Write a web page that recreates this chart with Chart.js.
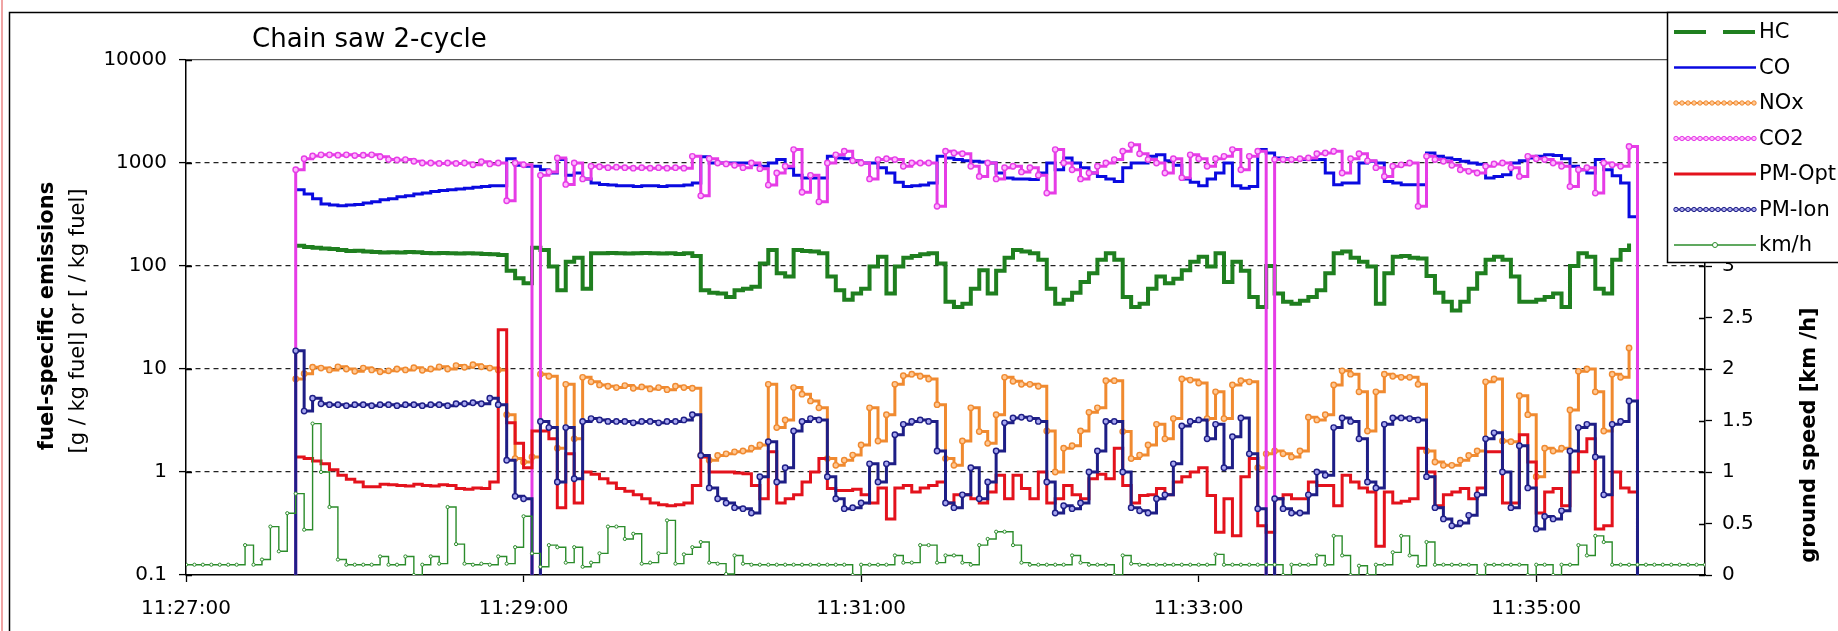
<!DOCTYPE html>
<html>
<head>
<meta charset="utf-8">
<script src="https://cdn.jsdelivr.net/npm/chart.js@4.4.1/dist/chart.umd.min.js"></script>
<style>
  html, body { margin: 0; padding: 0; background: #fff; }
</style>
</head>
<body>
<canvas id="chart" width="1838" height="631"></canvas>
<script>
// time axis: seconds after 11:27:00, one reading every 3 s
const stepSec = 3;
const seconds = Array.from({ length: 181 }, (_, i) => i * stepSec);
const emissionStart = 36; // first emission reading (s)

const xTickSeconds = [0, 120, 240, 360, 480];
const xTickLabels = ['11:27:00', '11:29:00', '11:31:00', '11:33:00', '11:35:00'];
const yTicks = [0.1, 1, 10, 100, 1000, 10000];
const yTickLabels = ['0.1', '1', '10', '100', '1000', '10000'];
const y2Ticks = [0, 0.5, 1, 1.5, 2, 2.5, 3, 3.5, 4, 4.5, 5];
const y2TickLabels = ['0', '0.5', '1', '1.5', '2', '2.5', '3', '3.5', '4', '4.5', '5'];

const chartTitle = 'Chain saw 2-cycle';
const yTitle = ['fuel-specific emissions', '[g / kg fuel] or [ / kg fuel]'];
const y2Title = 'ground speed [km /h]';
const seriesNames = ['HC', 'CO', 'NOx', 'CO2', 'PM-Opt', 'PM-Ion', 'km/h'];

// emissions, t = 36 s ... 516 s (0.01 = reading at zero, below the axis)
const hc = [
  null, 157, 153, 150, 148, 146, 143, 140, 141, 138,
  137, 135, 136, 135, 137, 136, 134, 133, 134, 133,
  132, 133, 132, 131, 130, 128, 90, 76, 68, 150,
  143, 99, 58, 110, 120, 60, 133, 133, 134, 133,
  132, 133, 134, 133, 132, 133, 131, 133, 125, 58,
  55, 54, 50, 58, 60, 63, 106, 143, 85, 79,
  143, 140, 138, 133, 79, 58, 47, 54, 60, 99,
  123, 54, 99, 120, 125, 130, 133, 106, 45, 40,
  43, 60, 91, 54, 90, 120, 143, 138, 133, 115,
  60, 43, 47, 55, 70, 85, 115, 133, 115, 50,
  40, 43, 60, 79, 68, 75, 91, 110, 123, 99,
  133, 70, 110, 90, 50, 40, 100, 54, 45, 43,
  46, 50, 58, 85, 133, 138, 120, 110, 99, 43,
  85, 123, 125, 120, 118, 80, 55, 45, 37, 45,
  60, 85, 115, 123, 115, 79, 45, 45, 47, 50,
  54, 40, 100, 133, 123, 60, 54, 115, 143, 165,
  null
];
const co = [
  null, 550, 500, 450, 400, 390, 385, 390, 395, 410,
  420, 440, 450, 470, 480, 500, 510, 530, 540, 550,
  560, 570, 580, 590, 600, 600, 1100, 950, 930, 930,
  860, 800, 1080, 760, 800, 700, 640, 620, 610, 600,
  600, 590, 600, 600, 590, 600, 600, 610, 640, 1150,
  1000, 1000, 1000, 1000, 1000, 960, 930, 1000, 1080, 900,
  760, 715, 715, 715, 1160, 1120, 1100, 1050, 1000, 1000,
  900, 800, 650, 590, 600, 610, 640, 1160, 1120, 1080,
  1050, 1040, 1020, 1000, 800, 715, 700, 700, 690, 800,
  1000, 860, 1120, 1000, 900, 800, 740, 700, 660, 900,
  1000, 1000, 1160, 1200, 1050, 950, 700, 650, 600, 700,
  800, 1000, 600, 570, 590, 1350, 1250, 1120, 1100, 1080,
  1080, 1080, 1080, 800, 615, 640, 640, 1000, 1040, 1000,
  660, 640, 615, 615, 615, 1250, 1160, 1120, 1080, 1040,
  1000, 970, 715, 740, 770, 1000, 1050, 1120, 1160, 1200,
  1180, 1100, 930, 860, 800, 1080, 860, 750, 640, 300,
  0.01
];
const nox = [
  null, 8, 9, 10.4, 10.2, 9.8, 10.5, 10, 9.5, 10.2,
  9.8, 9.4, 9.6, 10, 9.8, 10.3, 9.7, 10, 10.5, 10,
  10.8, 10.4, 11, 10.5, 10.2, 9.8, 3.6, 1.35, 1.25, 1.4,
  8.9, 8.5, 1.7, 7.1, 2.1, 8.3, 7.5, 7, 6.8, 6.6,
  6.9, 6.5, 6.7, 6.4, 6.6, 6.3, 6.8, 6.6, 6.5, 1.45,
  1.3, 1.45, 1.5, 1.57, 1.6, 1.7, 1.83, 7.1, 2.7, 3.2,
  6.6, 5.7, 4.9, 4.2, 1.35, 1.16, 1.3, 1.46, 1.83, 4.2,
  2, 3.6, 7.1, 8.6, 8.9, 8.5, 8, 4.5, 1.35, 1.16,
  2, 4.2, 2.47, 1.9, 3.6, 8.3, 7.6, 7.1, 7.1, 6.8,
  2.5, 1, 1.7, 1.8, 2.5, 3.8, 4.2, 7.7, 7.7, 2.47,
  1.35, 1.46, 1.83, 2.9, 2.1, 3.3, 8, 7.8, 7.3, 3.3,
  6, 3.3, 7, 7.7, 7.5, 1.1, 1.5, 1.6, 1.5, 1.4,
  1.6, 3.4, 3.2, 3.6, 7, 9.6, 8.9, 6, 2.5, 6,
  8.9, 8.5, 8.3, 8.3, 7.1, 1.6, 1.25, 1.16, 1.16, 1.3,
  1.45, 1.6, 7.5, 8, 2, 1.97, 5.5, 3.6, 0.9, 1.7,
  1.6, 1.7, 4, 9.5, 10, 6, 2.5, 8.9, 8.3, 16,
  null
];
const co2 = [
  0.01, 860, 1100, 1170, 1200, 1200, 1190, 1200, 1180, 1190,
  1200, 1150, 1080, 1070, 1080, 1040, 1000, 1000, 990, 1000,
  990, 1000, 960, 1030, 980, 1000, 430, 1000, 960, 0.01,
  760, 820, 1120, 620, 1000, 700, 930, 920, 900, 910,
  900, 890, 900, 890, 900, 890, 900, 890, 1160, 480,
  1100, 1000, 980, 950, 900, 1000, 880, 610, 800, 930,
  1350, 520, 760, 420, 1000, 1200, 1300, 1050, 1000, 700,
  1080, 1100, 1080, 930, 1000, 1000, 1000, 380, 1300, 1250,
  1230, 930, 740, 1000, 700, 900, 930, 820, 900, 760,
  510, 1350, 1000, 860, 700, 800, 930, 1000, 1080, 1300,
  1500, 1230, 1080, 1000, 800, 1100, 720, 1200, 1100, 930,
  1100, 1160, 1350, 860, 1160, 1300, 0.01, 1080, 1080, 1080,
  1100, 1120, 1230, 1250, 1300, 800, 1100, 1230, 1050, 900,
  740, 930, 960, 1000, 380, 1160, 1080, 1040, 950, 860,
  830, 800, 930, 980, 1000, 900, 740, 1160, 1100, 1080,
  1000, 930, 590, 860, 900, 510, 1000, 960, 930, 1450,
  0.01
];
const pmOpt = [
  null, 1.4, 1.35, 1.28, 1.2, 1.05, 0.93, 0.85, 0.8, 0.72,
  0.72, 0.76, 0.75, 0.74, 0.73, 0.76, 0.74, 0.73, 0.75, 0.74,
  0.69, 0.68, 0.7, 0.69, 0.8, 24, 3, 1.9, 1.1, 2.5,
  2.5, 2.1, 0.45, 1.5, 0.5, 1, 0.95, 0.86, 0.78, 0.69,
  0.65, 0.6, 0.55, 0.5, 0.48, 0.47, 0.48, 0.5, 0.74, 1.4,
  1, 1, 1, 0.98, 0.96, 0.74, 0.55, 1.57, 0.5, 0.55,
  0.6, 0.8, 1, 1.35, 0.69, 0.66, 0.66, 0.68, 0.6, 0.5,
  0.7, 0.35, 0.7, 0.74, 0.64, 0.7, 0.74, 0.8, 0.5, 0.6,
  0.6, 0.55, 0.5, 0.64, 0.93, 0.55, 0.93, 0.69, 0.55, 1,
  0.5, 0.55, 0.74, 0.6, 0.55, 0.86, 0.95, 0.86, 1.7, 0.74,
  0.5, 0.59, 0.6, 0.69, 0.6, 0.8, 0.9, 1, 1.1, 0.59,
  0.26, 0.55, 0.24, 0.9, 1.35, 0.3, 0.26, 0.55, 0.6, 0.55,
  0.55, 0.8, 0.74, 0.74, 0.47, 0.93, 0.8, 0.7, 0.64, 0.19,
  0.64, 0.5, 0.52, 0.55, 1.7, 1, 0.47, 0.6, 0.64, 0.69,
  0.55, 0.7, 1.57, 1.57, 0.5, 0.5, 2.3, 1.25, 0.4, 0.64,
  0.69, 0.47, 1, 1.57, 2.1, 0.28, 0.3, 1, 0.7, 0.64,
  0.01
];
const pmIon = [
  0.01, 15, 3.9, 5.2, 4.6, 4.5, 4.5, 4.4, 4.5, 4.5,
  4.4, 4.5, 4.5, 4.4, 4.5, 4.5, 4.4, 4.5, 4.5, 4.4,
  4.6, 4.6, 4.7, 4.6, 5.2, 4.5, 1.3, 0.58, 0.55, 0.01,
  3.1, 2.7, 0.8, 2.7, 0.86, 3.1, 3.3, 3.2, 3.1, 3.1,
  3.1, 3, 3.1, 3.1, 3, 3.1, 3.1, 3.2, 3.6, 1.45,
  0.7, 0.55, 0.5, 0.45, 0.44, 0.4, 0.9, 1.97, 0.8, 1.1,
  2.5, 3.1, 3.3, 3.2, 0.9, 0.55, 0.44, 0.45, 0.5, 1.2,
  0.8, 1.2, 2.3, 2.9, 3.1, 3.2, 3.1, 1.6, 0.5, 0.45,
  0.6, 1.1, 0.55, 0.8, 1.6, 3, 3.35, 3.4, 3.3, 3.1,
  0.8, 0.4, 0.47, 0.44, 0.5, 1, 1.6, 3.1, 3.1, 1,
  0.45, 0.42, 0.4, 0.55, 0.6, 1.2, 2.8, 3.1, 3.2, 2.1,
  2.9, 1.1, 2.2, 3.35, 1.5, 0.44, 0.01, 0.55, 0.44, 0.4,
  0.4, 0.6, 1, 0.93, 2.7, 3.35, 3.1, 2.1, 0.8, 0.7,
  2.9, 3.35, 3.35, 3.3, 3.2, 0.9, 0.45, 0.35, 0.3, 0.32,
  0.38, 0.6, 2.1, 2.4, 1, 0.45, 1.8, 0.7, 0.28, 0.37,
  0.35, 0.42, 1.6, 2.7, 2.9, 1.4, 0.6, 2.9, 3.1, 4.9,
  0.01
];
// ground speed, t = 0 s ... 540 s
const kmh = [
  0.1, 0.1, 0.1, 0.1, 0.1, 0.1, 0.1, 0.29, 0.1, 0.15,
  0.47, 0.23, 0.6, 0.79, 0.44, 1.47, 1, 0.66, 0.15, 0.1,
  0.1, 0.1, 0.1, 0.18, 0.1, 0.1, 0.18, 0, 0.1, 0.18,
  0.11, 0.66, 0.3, 0.11, 0.1, 0.11, 0.1, 0.18, 0.11, 0.27,
  0.57, 0.21, 0.08, 0.29, 0.27, 0.12, 0.27, 0.08, 0.12, 0.21,
  0.47, 0.47, 0.35, 0.4, 0.11, 0.12, 0.21, 0.53, 0.11, 0.2,
  0.27, 0.32, 0.12, 0.11, 0.01, 0.19, 0.11, 0.1, 0.1, 0.1,
  0.1, 0.1, 0.1, 0.1, 0.1, 0.1, 0.1, 0.1, 0.1, 0,
  0.1, 0.1, 0.1, 0.1, 0.19, 0.12, 0.12, 0.29, 0.29, 0.12,
  0.19, 0.19, 0.12, 0.1, 0.29, 0.35, 0.42, 0.42, 0.29, 0.12,
  0.1, 0.1, 0.1, 0.1, 0.1, 0.19, 0.12, 0.1, 0.1, 0.1,
  0, 0.19, 0.11, 0.1, 0.1, 0.1, 0.1, 0.1, 0.1, 0.1,
  0.1, 0.1, 0.2, 0.1, 0.1, 0.1, 0.1, 0.1, 0.1, 0.1,
  0, 0.1, 0.1, 0.1, 0.19, 0.1, 0.38, 0.19, 0, 0.09,
  0, 0.1, 0.1, 0.22, 0.38, 0.19, 0.09, 0.32, 0.1, 0.1,
  0.1, 0.1, 0.1, 0, 0.1, 0.1, 0.1, 0.1, 0.1, 0,
  0.1, 0.1, 0, 0.1, 0.1, 0.29, 0.19, 0.38, 0.32, 0.1,
  0.1, 0.1, 0.1, 0.1, 0.1, 0.1, 0.1, 0.1, 0.1, 0.1,
  0.1
];

// put a series on the common time axis
function onTimeAxis(values, first) {
  return seconds.map(t => {
    const i = (t - first) / stepSec;
    const y = i >= 0 && i < values.length ? values[i] : null;
    return { x: t, y: y };
  });
}

Chart.defaults.font.family = '"DejaVu Sans", sans-serif';
Chart.defaults.font.size = 20;
Chart.defaults.color = '#000';

const colors = {
  hc: '#1f7f1f', co: '#0a0ae0', nox: '#f08a30', co2: '#e63ce6',
  pmOpt: '#e3121c', pmIon: '#1e1e86', kmh: '#2b8c2b'
};

function series(label, data, color, width, order, extra) {
  return Object.assign({
    label: label,
    data: data,
    borderColor: color,
    backgroundColor: color,
    borderWidth: width,
    stepped: true,
    pointRadius: 0,
    fill: false,
    order: order,
    yAxisID: 'y'
  }, extra || {});
}

const beads = (color, fill) => ({
  pointRadius: 2.7, pointBorderWidth: 1.4, pointBorderColor: color, pointBackgroundColor: fill
});

const datasets = [
  series(seriesNames[0], onTimeAxis(hc, emissionStart), colors.hc, 4, 7),
  series(seriesNames[1], onTimeAxis(co, emissionStart), colors.co, 3, 6),
  series(seriesNames[2], onTimeAxis(nox, emissionStart), colors.nox, 3, 5, beads(colors.nox, '#ffc996')),
  series(seriesNames[3], onTimeAxis(co2, emissionStart), colors.co2, 3, 4, beads(colors.co2, '#ffb8ff')),
  series(seriesNames[4], onTimeAxis(pmOpt, emissionStart), colors.pmOpt, 3, 3),
  series(seriesNames[5], onTimeAxis(pmIon, emissionStart), colors.pmIon, 3, 2, beads(colors.pmIon, '#a8a8f0')),
  series(seriesNames[6], onTimeAxis(kmh, 0), colors.kmh, 1.4, 1, {
    yAxisID: 'y1', pointRadius: 1.6, pointBorderWidth: 1,
    pointBorderColor: colors.kmh, pointBackgroundColor: '#ffffff'
  })
];

// how each entry looks in the legend box
const legendLook = [
  { color: colors.hc, width: 4, dash: [32, 17] },
  { color: colors.co, width: 2.5 },
  { color: colors.nox, width: 2, beads: '#ffc996' },
  { color: colors.co2, width: 2, beads: '#ffb8ff' },
  { color: colors.pmOpt, width: 3 },
  { color: colors.pmIon, width: 2, beads: '#a8a8f0' },
  { color: colors.kmh, width: 1.3, marker: true }
];

const decor = {
  id: 'decor',
  beforeDraw(chart) {
    const ctx = chart.ctx;
    ctx.save();
    ctx.fillStyle = '#fff';
    ctx.fillRect(0, 0, chart.width, chart.height);
    ctx.restore();
  },
  afterDraw(chart) {
    const { ctx, chartArea: a, scales } = chart;
    ctx.save();

    // tick marks crossing into the plot
    ctx.strokeStyle = '#000';
    ctx.lineWidth = 1.3;
    ctx.beginPath();
    yTicks.forEach(v => {
      const py = Math.round(scales.y.getPixelForValue(v)) + 0.5;
      ctx.moveTo(a.left, py); ctx.lineTo(a.left + 6, py);
    });
    y2Ticks.forEach(v => {
      const py = Math.round(scales.y1.getPixelForValue(v)) + 0.5;
      ctx.moveTo(a.right - 6, py); ctx.lineTo(a.right, py);
    });
    ctx.stroke();

    // chart border
    ctx.strokeStyle = '#f0a4a4';
    ctx.lineWidth = 2;
    ctx.beginPath(); ctx.moveTo(2, 0); ctx.lineTo(2, chart.height); ctx.stroke();
    ctx.strokeStyle = '#000';
    ctx.lineWidth = 1.5;
    ctx.beginPath();
    ctx.moveTo(9.5, chart.height); ctx.lineTo(9.5, 12.5); ctx.lineTo(chart.width, 12.5);
    ctx.stroke();

    // title
    ctx.fillStyle = '#000';
    ctx.textAlign = 'left';
    ctx.textBaseline = 'alphabetic';
    ctx.font = '26px "DejaVu Sans"';
    ctx.fillText(chartTitle, 252, 47);

    // axis titles
    ctx.textAlign = 'center';
    ctx.textBaseline = 'middle';
    const vText = (text, x, y, font) => {
      ctx.save();
      ctx.translate(x, y);
      ctx.rotate(-Math.PI / 2);
      ctx.font = font;
      ctx.fillText(text, 0, 0);
      ctx.restore();
    };
    vText(yTitle[0], 48, 316, 'bold 21px "DejaVu Sans"');
    vText(yTitle[1], 79, 321, '21px "DejaVu Sans"');
    vText(y2Title, 1810, 435, 'bold 21px "DejaVu Sans"');

    // legend box
    const box = { x: 1667, y: 12, w: 200, h: 250 };
    ctx.fillStyle = '#fff';
    ctx.fillRect(box.x, box.y, box.w, box.h);
    ctx.strokeStyle = '#000';
    ctx.lineWidth = 1.5;
    ctx.strokeRect(box.x + 0.5, box.y + 0.5, box.w, box.h);
    const x0 = box.x + 7, x1 = box.x + 89;
    seriesNames.forEach((name, i) => {
      const y = 32 + i * 35.5;
      const look = legendLook[i];
      ctx.save();
      ctx.strokeStyle = look.color;
      ctx.lineWidth = look.width;
      ctx.setLineDash(look.dash || []);
      ctx.beginPath(); ctx.moveTo(x0, y); ctx.lineTo(x1, y); ctx.stroke();
      ctx.setLineDash([]);
      if (look.beads) {
        ctx.lineWidth = 1;
        ctx.fillStyle = look.beads;
        for (let bx = x0 + 2; bx <= x1 - 2; bx += 6) {
          ctx.beginPath(); ctx.arc(bx, y, 2.2, 0, Math.PI * 2); ctx.fill(); ctx.stroke();
        }
      }
      if (look.marker) {
        ctx.lineWidth = 1;
        ctx.fillStyle = '#fff';
        ctx.beginPath(); ctx.arc((x0 + x1) / 2, y, 2.5, 0, Math.PI * 2); ctx.fill(); ctx.stroke();
      }
      ctx.restore();
      ctx.fillStyle = '#000';
      ctx.textAlign = 'left';
      ctx.textBaseline = 'middle';
      ctx.font = '21px "DejaVu Sans"';
      ctx.fillText(name, x1 + 3, y + 1);
    });
    ctx.restore();
  }
};

new Chart(document.getElementById('chart'), {
  type: 'line',
  data: { datasets: datasets },
  options: {
    responsive: false,
    devicePixelRatio: 1,
    animation: false,
    layout: { padding: { top: 60, left: 0, right: 0, bottom: 0 } },
    elements: { line: { tension: 0 } },
    plugins: {
      legend: { display: false },
      tooltip: { enabled: false },
      title: { display: false }
    },
    scales: {
      x: {
        type: 'linear',
        position: 'bottom',
        min: 0,
        max: 540,
        afterBuildTicks: s => { s.ticks = xTickSeconds.map(v => ({ value: v })); },
        afterFit: s => { s.height = 56; },
        ticks: {
          autoSkip: false, maxRotation: 0, padding: 15,
          callback: (v, i) => xTickLabels[i]
        },
        grid: { drawOnChartArea: false, tickLength: 7, tickWidth: 1.3, tickColor: '#000' },
        border: { color: '#000', width: 1.5 }
      },
      y: {
        type: 'logarithmic',
        position: 'left',
        min: 0.1,
        max: 10000,
        afterBuildTicks: s => { s.ticks = yTicks.map(v => ({ value: v })); },
        afterFit: s => { s.width = 186; },
        ticks: { padding: 12, callback: (v, i) => yTickLabels[i] },
        grid: {
          color: c => {
            if (!c.tick || c.tick.value <= 0.1) return 'rgba(0,0,0,0)';
            return c.tick.value >= 10000 ? '#555' : '#222';
          },
          lineWidth: 1.2,
          tickLength: 7,
          tickWidth: 1.3,
          tickColor: '#000'
        },
        border: {
          color: '#000', width: 1.5,
          dash: c => (c.tick && c.tick.value >= 10000) ? [] : [5, 4]
        }
      },
      y1: {
        type: 'linear',
        position: 'right',
        min: 0,
        max: 5,
        afterBuildTicks: s => { s.ticks = y2Ticks.map(v => ({ value: v })); },
        afterFit: s => { s.width = 133; },
        ticks: { padding: 10, callback: (v, i) => y2TickLabels[i] },
        grid: { drawOnChartArea: false, tickLength: 7, tickWidth: 1.3, tickColor: '#000' },
        border: { color: '#000', width: 1.5 }
      }
    }
  },
  plugins: [decor]
});
</script>
</body>
</html>
